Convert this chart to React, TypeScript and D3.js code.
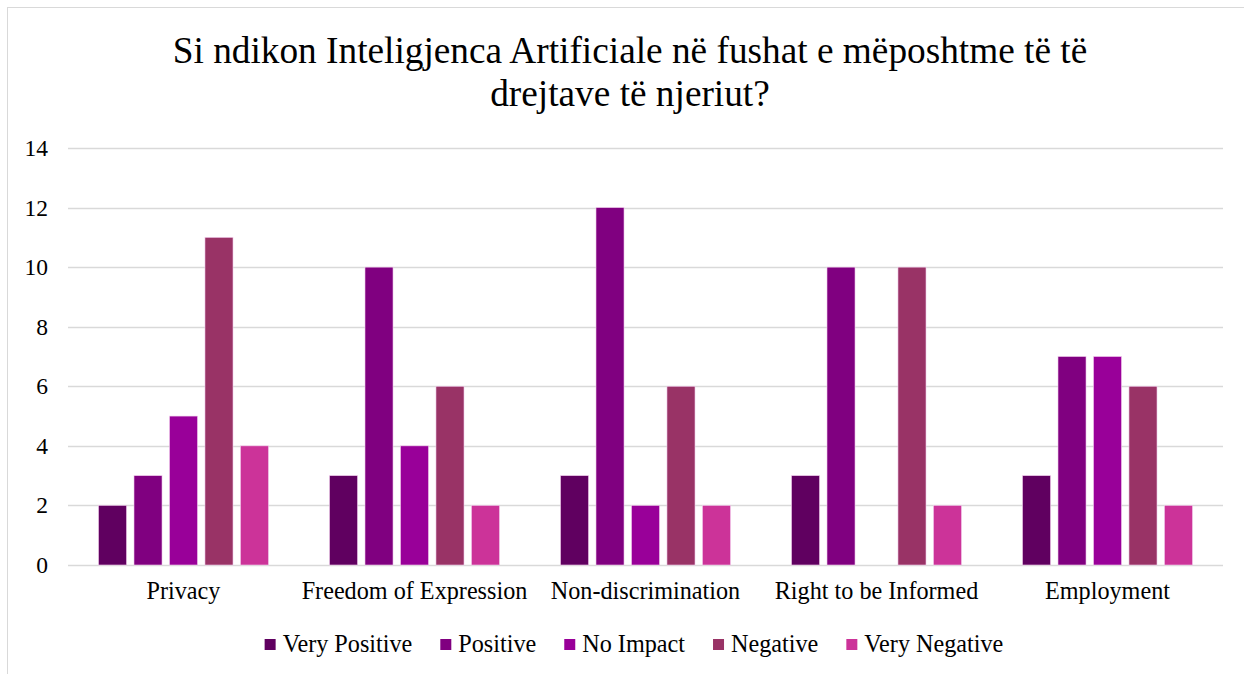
import * as d3 from 'd3';
import { useEffect, useRef } from 'react';

const categories = ['Privacy', 'Freedom of Expression', 'Non-discrimination', 'Right to be Informed', 'Employment'];
const seriesNames = ['Very Positive', 'Positive', 'No Impact', 'Negative', 'Very Negative'];
const veryPositive = [2, 3, 3, 3, 3];
const positive = [3, 10, 12, 10, 7];
const noImpact = [5, 4, 2, 0, 7];
const negative = [11, 6, 6, 10, 6];
const veryNegative = [4, 2, 2, 2, 2];
const seriesColors = ['#600060', '#800080', '#990099', '#993366', '#cc3399'];
const yTicks = [0, 2, 4, 6, 8, 10, 12, 14];
const titleLines = ['Si ndikon Inteligjenca Artificiale në fushat e mëposhtme të të', 'drejtave të njeriut?'];

export default function App() {
  const ref = useRef<SVGSVGElement>(null);

  useEffect(() => {
    const W = 1244;
    const H = 674;
    const svg = d3.select(ref.current);
    svg.selectAll('*').remove();

    const font = '"Liberation Serif", "Times New Roman", serif';
    const values = [veryPositive, positive, noImpact, negative, veryNegative];

    // chart frame
    svg
      .append('rect')
      .attr('x', 7.5)
      .attr('y', 7.5)
      .attr('width', W + 20)
      .attr('height', H + 20)
      .attr('fill', 'white')
      .attr('stroke', '#d9d9d9');

    // title
    svg
      .append('g')
      .selectAll('text')
      .data(titleLines)
      .join('text')
      .attr('x', 630)
      .attr('y', (d, i) => 63 + i * 43)
      .attr('text-anchor', 'middle')
      .attr('font-family', font)
      .attr('font-size', 37.3)
      .attr('fill', '#000')
      .text((d) => d);

    const x0 = d3.scaleBand().domain(categories).range([68, 1223]);
    const x1 = d3.scaleBand().domain(seriesNames).range([30.5, 200.5]).paddingInner(0.21);
    const y = d3.scaleLinear().domain([0, 14]).range([565, 148]);

    // grid
    svg
      .append('g')
      .selectAll('line')
      .data(yTicks)
      .join('line')
      .attr('x1', 68)
      .attr('x2', 1223)
      .attr('y1', (d) => Math.round(y(d)) + 0.5)
      .attr('y2', (d) => Math.round(y(d)) + 0.5)
      .attr('stroke', '#d9d9d9')
      .attr('stroke-width', 1.5);

    // y labels
    svg
      .append('g')
      .selectAll('text')
      .data(yTicks)
      .join('text')
      .attr('x', 48)
      .attr('y', (d) => y(d) + 8)
      .attr('text-anchor', 'end')
      .attr('font-family', font)
      .attr('font-size', 23.5)
      .attr('fill', '#000')
      .text((d) => d);

    // bars
    const groups = svg
      .append('g')
      .selectAll('g')
      .data(categories)
      .join('g')
      .attr('transform', (d) => `translate(${x0(d)},0)`);

    groups
      .selectAll('rect')
      .data((c, ci) => seriesNames.map((s, si) => ({ s, si, v: values[si][ci] })))
      .join('rect')
      .filter((d) => d.v > 0)
      .attr('x', (d) => x1(d.s)!)
      .attr('y', (d) => y(d.v))
      .attr('width', x1.bandwidth())
      .attr('height', (d) => y(0) - y(d.v))
      .attr('fill', (d) => seriesColors[d.si])
      .attr('stroke', '#f3d0ee')
      .attr('stroke-width', 0.6);

    // category labels
    svg
      .append('g')
      .selectAll('text')
      .data(categories)
      .join('text')
      .attr('x', (d) => x0(d)! + x0.bandwidth() / 2)
      .attr('y', 599)
      .attr('text-anchor', 'middle')
      .attr('font-family', font)
      .attr('font-size', 24.2)
      .attr('fill', '#000')
      .text((d) => d);

    // legend
    const legend = svg.append('g');
    const items = legend
      .selectAll('g')
      .data(seriesNames)
      .join('g');
    items
      .append('rect')
      .attr('width', 11)
      .attr('height', 11)
      .attr('y', 639)
      .attr('fill', (d, i) => seriesColors[i]);
    items
      .append('text')
      .attr('x', 18)
      .attr('y', 652)
      .attr('font-family', font)
      .attr('font-size', 24.2)
      .attr('fill', '#000')
      .text((d) => d);

    const gap = 28;
    let cx = 0;
    const offsets: number[] = [];
    items.each(function () {
      offsets.push(cx);
      const w = (this.querySelector('text') as SVGTextElement).getComputedTextLength();
      cx += 18 + w + gap;
    });
    const total = cx - gap;
    const start = 634 - total / 2;
    items.attr('transform', (d, i) => `translate(${start + offsets[i]},0)`);
  }, []);

  return (
    <svg
      ref={ref}
      width={1244}
      height={674}
      style={{ position: 'absolute', left: 0, top: 0, display: 'block', background: 'white' }}
    />
  );
}
